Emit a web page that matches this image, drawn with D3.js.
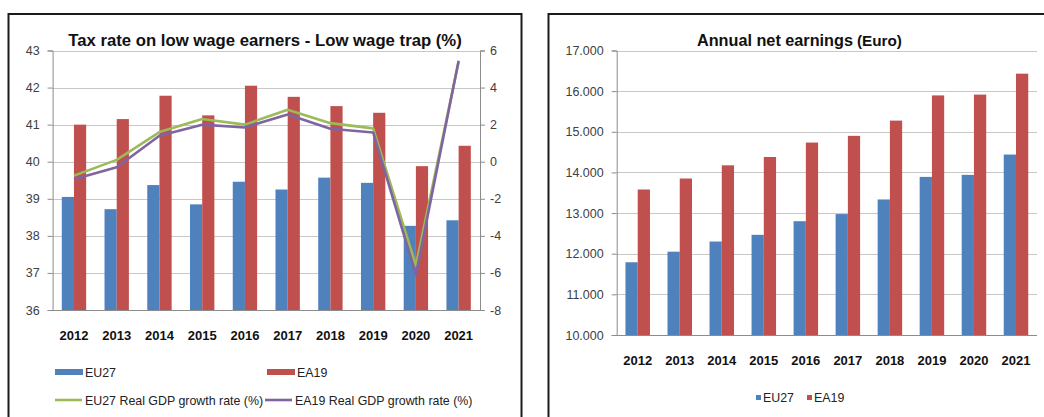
<!DOCTYPE html>
<html><head><meta charset="utf-8">
<script src="https://cdn.jsdelivr.net/npm/d3@7"></script>
<style>
body{margin:0;background:#fff}
svg{display:block}
text{font-family:"Liberation Sans",Arial,sans-serif}
</style>
</head><body>
<svg id="c" width="1044" height="417"></svg>
<script>
// ---- data ----
const years = [2012, 2013, 2014, 2015, 2016, 2017, 2018, 2019, 2020, 2021];
const taxEU27 = [39.05, 38.72, 39.37, 38.85, 39.46, 39.25, 39.57, 39.43, 38.27, 38.42];
const taxEA19 = [41.0, 41.15, 41.78, 41.25, 42.05, 41.75, 41.5, 41.32, 39.88, 40.43];
const gdpEU27 = [-0.75, 0.1, 1.6, 2.3, 2.0, 2.8, 2.08, 1.8, -5.6, 5.4];
const gdpEA19 = [-0.95, -0.3, 1.4, 2.0, 1.85, 2.55, 1.78, 1.58, -6.1, 5.45];
const earnEU27 = [11790, 12050, 12300, 12465, 12800, 12975, 13335, 13890, 13940, 14440];
const earnEA19 = [13580, 13850, 14175, 14380, 14735, 14900, 15275, 15895, 15915, 16430];
const leftTicks = [36, 37, 38, 39, 40, 41, 42, 43];
const rightTicks = [-8, -6, -4, -2, 0, 2, 4, 6];
const earnTicks = [10000, 11000, 12000, 13000, 14000, 15000, 16000, 17000];
const barSeries = ["EU27", "EA19"];
const lineSeries = ["EU27 Real GDP growth rate (%)", "EA19 Real GDP growth rate (%)"];
const title1 = "Tax rate on low wage earners - Low wage trap (%)";
const title2a = "Annual net earnings";
const title2b = "(Euro)";

// ---- styles ----
const BLUE = "#4F81BD", RED = "#C0504D", GREEN = "#9BBB59", PURPLE = "#8064A2";
const GRID = "#C8C8C8", AXIS = "#8C8C8C", LBL = "#404040";

const svg = d3.select("#c");
svg.append("rect").attr("width", 1044).attr("height", 417).attr("fill", "#fff");

function fit(t, w) {
  const l = t.node().getComputedTextLength();
  const fs = parseFloat(t.attr("font-size"));
  t.attr("font-size", fs * w / l);
}

// panel borders
svg.append("rect").attr("x", 8.5).attr("y", 14).attr("width", 513).attr("height", 430)
  .attr("fill", "none").attr("stroke", "#1b1b1b").attr("stroke-width", 2);
svg.append("rect").attr("x", 548.5).attr("y", 14).attr("width", 520).attr("height", 430)
  .attr("fill", "none").attr("stroke", "#1b1b1b").attr("stroke-width", 2);

// ================= LEFT CHART =================
(function () {
  const L = 52.6, R = 480, T = 50.5, B = 310;
  const g = svg.append("g");
  const x0 = d3.scaleBand().domain(years).range([L, R]).paddingInner(0.43).paddingOuter(0.215);
  const x1 = d3.scaleBand().domain(barSeries).range([0, x0.bandwidth()]);
  const y = d3.scaleLinear().domain([36, 43]).range([B, T]);
  const yR = d3.scaleLinear().domain([-8, 6]).range([B, T]);

  // gridlines
  g.append("g").selectAll("line").data(leftTicks.filter(d => d > 36)).join("line")
    .attr("x1", L).attr("x2", R).attr("y1", d => Math.round(y(d)) + 0.5).attr("y2", d => Math.round(y(d)) + 0.5)
    .attr("stroke", GRID).attr("stroke-width", 1);

  // bars
  const series = [taxEU27, taxEA19];
  const colors = [BLUE, RED];
  series.forEach((vals, si) => {
    g.append("g").selectAll("rect").data(years).join("rect")
      .attr("x", (d) => x0(d) + x1(barSeries[si]))
      .attr("width", x1.bandwidth())
      .attr("y", (d, i) => y(vals[i]))
      .attr("height", (d, i) => B - y(vals[i]))
      .attr("fill", colors[si]);
  });

  // axes
  const ax = g.append("g").attr("transform", `translate(${L},0)`)
    .call(d3.axisLeft(y).tickValues(leftTicks).tickSize(5).tickPadding(8).tickFormat(d3.format("d")));
  const axR = g.append("g").attr("transform", `translate(${R},0)`)
    .call(d3.axisRight(yR).tickValues(rightTicks).tickSize(5).tickPadding(5).tickFormat(d => d < 0 ? "-" + Math.abs(d) : d));
  [ax, axR].forEach(a => {
    a.select(".domain").attr("stroke", AXIS);
    a.selectAll(".tick line").attr("stroke", AXIS);
    a.selectAll(".tick text").attr("fill", LBL).attr("font-size", 12.5)
      .attr("font-family", "'Liberation Sans',Arial,sans-serif");
  });
  g.append("line").attr("x1", L).attr("x2", R).attr("y1", B + 0.5).attr("y2", B + 0.5).attr("stroke", AXIS);

  // year labels
  g.append("g").selectAll("text").data(years).join("text")
    .attr("x", d => x0(d) + x0.bandwidth() / 2).attr("y", 340)
    .attr("text-anchor", "middle").attr("font-weight", "bold").attr("font-size", 13).attr("fill", "#111")
    .text(d => d);

  // lines
  const lines = [gdpEU27, gdpEA19];
  const lcol = [GREEN, PURPLE];
  lines.forEach((vals, si) => {
    const line = d3.line().x((d, i) => x0(years[i]) + x0.bandwidth() / 2).y(d => yR(d));
    g.append("path").datum(vals).attr("d", line).attr("fill", "none")
      .attr("stroke", lcol[si]).attr("stroke-width", 2.6).attr("stroke-linejoin", "round");
  });

  // title
  const t = svg.append("text").attr("x", 265).attr("y", 46).attr("text-anchor", "middle")
    .attr("font-weight", "bold").attr("font-size", 15).attr("fill", "#111").text(title1);
  fit(t, 394);

  // legend
  const lg = svg.append("g");
  const items = [
    { x: 55, y: 372, type: "bar", c: BLUE, label: barSeries[0] },
    { x: 267, y: 372, type: "bar", c: RED, label: barSeries[1] },
    { x: 55, y: 400, type: "line", c: GREEN, label: lineSeries[0] },
    { x: 265, y: 400, type: "line", c: PURPLE, label: lineSeries[1] }
  ];
  items.forEach(it => {
    if (it.type === "bar") {
      lg.append("rect").attr("x", it.x).attr("y", it.y - 3).attr("width", 28).attr("height", 6).attr("fill", it.c);
    } else {
      lg.append("line").attr("x1", it.x).attr("x2", it.x + 27).attr("y1", it.y).attr("y2", it.y)
        .attr("stroke", it.c).attr("stroke-width", 2.6);
    }
    lg.append("text").attr("x", it.x + 30).attr("y", it.y + 4.5).attr("font-size", 12.4).attr("fill", "#222")
      .text(it.label);
  });
})();

// ================= RIGHT CHART =================
(function () {
  const L = 616.7, R = 1037, T = 50.5, B = 335;
  const g = svg.append("g");
  const x0 = d3.scaleBand().domain(years).range([L, R]).paddingInner(0.417).paddingOuter(0.2085);
  const x1 = d3.scaleBand().domain(barSeries).range([0, x0.bandwidth()]);
  const y = d3.scaleLinear().domain([10000, 17000]).range([B, T]);
  const loc = d3.formatLocale({ decimal: ",", thousands: ".", grouping: [3], currency: ["", ""] });
  const fmt = loc.format(",.3f");

  g.append("g").selectAll("line").data(earnTicks.filter(d => d > 10000)).join("line")
    .attr("x1", L).attr("x2", R).attr("y1", d => Math.round(y(d)) + 0.5).attr("y2", d => Math.round(y(d)) + 0.5)
    .attr("stroke", GRID).attr("stroke-width", 1);

  const series = [earnEU27, earnEA19];
  const colors = [BLUE, RED];
  series.forEach((vals, si) => {
    g.append("g").selectAll("rect").data(years).join("rect")
      .attr("x", d => x0(d) + x1(barSeries[si]))
      .attr("width", x1.bandwidth())
      .attr("y", (d, i) => y(vals[i]))
      .attr("height", (d, i) => B - y(vals[i]))
      .attr("fill", colors[si]);
  });

  const ax = g.append("g").attr("transform", `translate(${L},0)`)
    .call(d3.axisLeft(y).tickValues(earnTicks).tickSize(5).tickPadding(8)
      .tickFormat(d => loc.format(",d")(d).replace(/,/g, ".")));
  ax.select(".domain").attr("stroke", AXIS);
  ax.selectAll(".tick line").attr("stroke", AXIS);
  ax.selectAll(".tick text").attr("fill", LBL).attr("font-size", 12.5)
    .attr("font-family", "'Liberation Sans',Arial,sans-serif");
  g.append("line").attr("x1", L).attr("x2", R).attr("y1", B + 0.5).attr("y2", B + 0.5).attr("stroke", AXIS);

  g.append("g").selectAll("text").data(years).join("text")
    .attr("x", d => x0(d) + x0.bandwidth() / 2).attr("y", 364.5)
    .attr("text-anchor", "middle").attr("font-weight", "bold").attr("font-size", 13).attr("fill", "#111")
    .text(d => d);

  const ta = svg.append("text").attr("x", 697).attr("y", 46)
    .attr("font-weight", "bold").attr("font-size", 15).attr("fill", "#111").text(title2a);
  fit(ta, 156);
  const tb = svg.append("text").attr("x", 857).attr("y", 46)
    .attr("font-weight", "bold").attr("font-size", 12).attr("fill", "#111").text(title2b);
  fit(tb, 45);

  const lg = svg.append("g");
  [{ x: 756, c: BLUE, label: barSeries[0] }, { x: 807, c: RED, label: barSeries[1] }].forEach(it => {
    lg.append("rect").attr("x", it.x).attr("y", 395).attr("width", 5).attr("height", 5).attr("fill", it.c);
    lg.append("text").attr("x", it.x + 7).attr("y", 402).attr("font-size", 12.4).attr("fill", "#222").text(it.label);
  });
})();
</script>
</body></html>
